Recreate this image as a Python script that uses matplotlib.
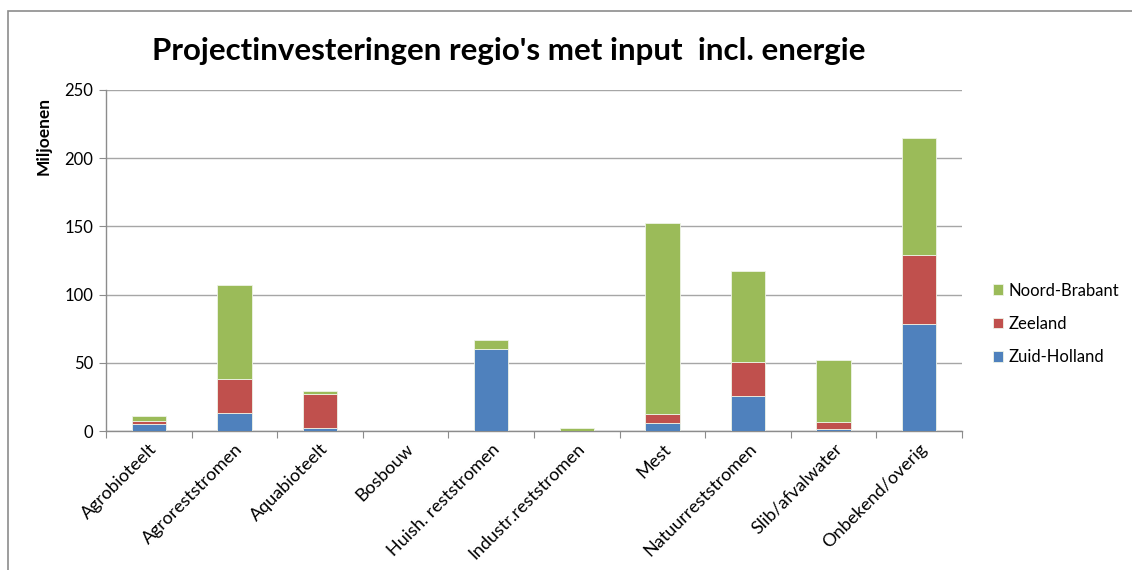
import matplotlib
matplotlib.use("Agg")
import matplotlib.pyplot as plt
from matplotlib.patches import Rectangle
import numpy as np

categories = ["Agrobioteelt", "Agroreststromen", "Aquabioteelt", "Bosbouw",
              "Huish. reststromen", "Industr.reststromen", "Mest",
              "Natuurreststromen", "Slib/afvalwater", "Onbekend/overig"]
zuid_holland = [4.9, 13.5, 2.0, 0.0, 60.3, 0.0, 6.1, 25.3, 1.5, 78.4]
zeeland = [2.7, 24.3, 25.2, 0.0, 0.0, 0.0, 6.6, 25.4, 5.4, 50.6]
noord_brabant = [3.1, 69.2, 2.0, 0.0, 6.1, 2.5, 140.0, 66.9, 45.1, 85.5]
series_names = ["Zuid-Holland", "Zeeland", "Noord-Brabant"]
series_colors = ["#4F81BD", "#C0504D", "#9BBB59"]
y_ticks = [0, 50, 100, 150, 200, 250]

plt.rcParams["font.family"] = ["Lato", "DejaVu Sans"]

fig = plt.figure(figsize=(11.32, 5.70), dpi=100)
ax = fig.add_axes([106 / 1132, 139 / 570, 856 / 1132, 341 / 570])

x = np.arange(len(categories))
bottom = np.zeros(len(categories))
handles = []
for vals, name, col in zip([zuid_holland, zeeland, noord_brabant], series_names, series_colors):
    v = np.array(vals)
    h = ax.bar(x, v, width=0.4, bottom=bottom, color=col, edgecolor="#eef3e6",
               linewidth=0.6, label=name, zorder=3)
    handles.append(h)
    bottom += v

ax.set_xlim(-0.5, len(categories) - 0.5)
ax.set_ylim(0, 250)
ax.set_yticks(y_ticks)
ax.set_yticklabels([str(t) for t in y_ticks], fontsize=12)
ax.yaxis.grid(True, color="#a6a6a6", linewidth=1.0, zorder=0)
ax.set_axisbelow(True)

# category ticks sit between bars
ax.set_xticks(np.arange(-0.5, len(categories) + 0.5, 1.0))
ax.set_xticklabels([])
ax.set_xticks(x, minor=True)
ax.set_xticklabels(categories, minor=True, rotation=45, ha="right",
                   rotation_mode="anchor", fontsize=13)
ax.tick_params(axis="x", which="minor", length=0, pad=7)
ax.tick_params(axis="x", which="major", length=5, color="#8c8c8c", direction="out")
ax.tick_params(axis="y", length=5, color="#8c8c8c", direction="out", pad=4)

for s in ["top", "right"]:
    ax.spines[s].set_visible(False)
for s in ["left", "bottom"]:
    ax.spines[s].set_color("#8c8c8c")
    ax.spines[s].set_linewidth(1.0)

ax.set_ylabel("Miljoenen", fontsize=12.5, fontweight="bold")
ax.yaxis.set_label_coords(-54 / 856, 0.865)

leg = fig.legend(handles[::-1], series_names[::-1], loc="center left",
                 bbox_to_anchor=(978 / 1132, 1 - 324 / 570), frameon=False,
                 fontsize=12, handlelength=0.6, handleheight=0.6,
                 labelspacing=1.05, handletextpad=0.35)

fig.text(509 / 1132, 1 - 51 / 570, "Projectinvesteringen regio's met input  incl. energie",
         ha="center", va="center", fontsize=22.5, fontweight="bold")

fig.patches.append(Rectangle((8 / 1132, -0.1), 1.2, 1 - 11 / 570 + 0.1,
                             transform=fig.transFigure, fill=False,
                             edgecolor="#8c8c8c", linewidth=1.2))

fig.savefig("out.png", dpi=100)
